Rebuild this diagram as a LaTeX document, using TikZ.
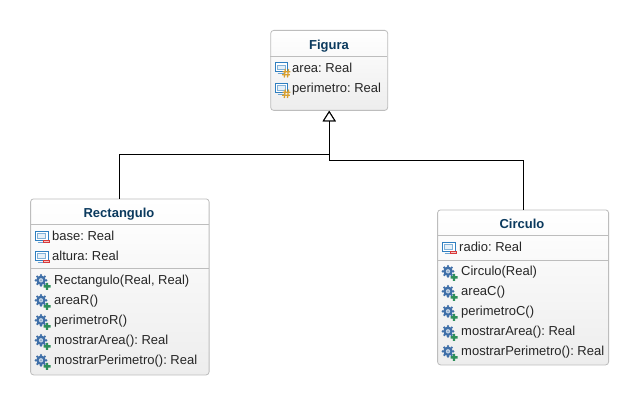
\documentclass[tikz,border=0pt]{standalone}
\usepackage{fontspec}
\setmainfont{Liberation Sans}
\usetikzlibrary{arrows.meta}
\frenchspacing
\definecolor{titlec}{HTML}{0B3A5E}
\definecolor{borderc}{HTML}{BDBDBD}
\definecolor{fieldc}{HTML}{2F7FC0}
\definecolor{gearc}{HTML}{3F6FA8}
\definecolor{plusc}{HTML}{2E8F5A}
\definecolor{minusc}{HTML}{D83A3A}
\definecolor{hashc}{HTML}{D8A030}
\tikzset{
 x=1pt,y=-1pt,
 umlbox/.style={draw=borderc,line width=0.8pt,rounded corners=3pt,top color=white,bottom color=black!7,inner sep=0pt,anchor=north west},
 divider/.style={draw=borderc,line width=0.8pt},
 titletext/.style={font=\fontsize{13}{15}\selectfont\bfseries,text=titlec,inner sep=0pt,anchor=base},
 member/.style={font=\fontsize{13}{15}\selectfont,text=black!85,anchor=base west,inner sep=0pt},
 inherit/.style={line width=1pt,-{Triangle[open,length=10.5pt,width=13pt,fill=white]}},
 pics/fieldicon/.style={code={
  \draw[fieldc,line width=1pt,fill=white] (-6.3,-4.5) rectangle (6.3,4.5);
  \draw[fieldc!60,line width=0.8pt,fill=fieldc!12] (-4,-2.2) rectangle (4,2.2);
  \draw[fieldc!70,line width=1pt] (-4,6.2) -- (2,6.2);
 }},
 pics/minusbadge/.style={code={\fill[minusc] (1.7,4) rectangle (8.5,7.2);\fill[white!70!minusc] (2.7,5.3) rectangle (7.5,5.9);}},
 pics/hashbadge/.style={code={
  \draw[hashc,line width=1.3pt] (3.8,1.5)--(2.8,10) (7,1.5)--(6,10) (1,4.2)--(8.8,4.2) (0.6,7.3)--(8.4,7.3);
 }},
 pics/methodicon/.style={code={
  \foreach \a in {0,45,...,315}{\fill[gearc] (\a:5.2) circle (1.3);}
  \fill[gearc] (0,0) circle (4.8);
  \fill[white!70!gearc] (0,0) circle (2.2);
  \fill[gearc!60] (0,0) circle (1);
  \fill[plusc] (2.5,4.8) rectangle (9.5,7.2) (4.8,2.5) rectangle (7.2,9.5);
 }},
}
\begin{document}
\begin{tikzpicture}
\useasboundingbox (0,0) rectangle (638,404);
\fill[white] (0,0) rectangle (638,404);
% Boxes
\node[umlbox,minimum width=117pt,minimum height=80pt] (fig) at (270.3,30) {};
\node[umlbox,minimum width=178.5pt,minimum height=176pt] (rect) at (30.2,198.5) {};
\node[umlbox,minimum width=171pt,minimum height=155pt] (circ) at (437.2,209.5) {};
% Connectors
\draw[inherit] (rect.north) -- ++(0,-44.5) -| (fig.south);
\draw[inherit] (circ.north) -- ++(0,-49.5) -| (fig.south);
% Dividers
\coordinate (figa) at (270.3,56); \coordinate (figb) at (387.3,56);
\draw[divider] (figa) -- (figb);
\coordinate (ra) at (30.2,224.5); \coordinate (rb) at (208.7,224.5);
\draw[divider] (ra) -- (rb);
\coordinate (rc) at (30.2,268.5); \coordinate (rd) at (208.7,268.5);
\draw[divider] (rc) -- (rd);
\coordinate (ca) at (437.2,235.5); \coordinate (cb) at (608.2,235.5);
\draw[divider] (ca) -- (cb);
\coordinate (cc) at (437.2,260.5); \coordinate (cd) at (608.2,260.5);
\draw[divider] (cc) -- (cd);
% Titles
\node[titletext] (figt) at (329,49.5) {Figura};
\node[titletext] (rectt) at (119,217.5) {Rectangulo};
\node[titletext] (circt) at (522,228.5) {Circulo};
% Figura
\pic at (281.5,67.5) {fieldicon}; \pic at (281.5,67.5) {hashbadge};
\node[member] (f1) at (292,72.6) {area: Real};
\pic at (281.5,88) {fieldicon}; \pic at (281.5,88) {hashbadge};
\node[member] (f2) at (292,92.6) {perimetro: Real};
% Rectangulo
\pic at (41.7,236) {fieldicon}; \pic at (41.7,236) {minusbadge};
\node[member] (r1) at (52,240.5) {base: Real};
\pic at (41.7,256) {fieldicon}; \pic at (41.7,256) {minusbadge};
\node[member] (r2) at (52,260.5) {altura: Real};
\pic at (41,280.3) {methodicon};
\node[member] (r3) at (54,284.5) {Rectangulo(Real, Real)};
\pic at (41,300.3) {methodicon};
\node[member] (r4) at (54,304.5) {areaR()};
\pic at (41,320.3) {methodicon};
\node[member] (r5) at (54,324.5) {perimetroR()};
\pic at (41,340.3) {methodicon};
\node[member] (r6) at (54,344.5) {mostrarArea(): Real};
\pic at (41,360.3) {methodicon};
\node[member] (r7) at (54,364.5) {mostrarPerimetro(): Real};
% Circulo
\pic at (448.7,247) {fieldicon}; \pic at (448.7,247) {minusbadge};
\node[member] (c1) at (459,251.5) {radio: Real};
\pic at (448,271.3) {methodicon};
\node[member] (c2) at (461,275.5) {Circulo(Real)};
\pic at (448,291.3) {methodicon};
\node[member] (c3) at (461,295.5) {areaC()};
\pic at (448,311.3) {methodicon};
\node[member] (c4) at (461,315.5) {perimetroC()};
\pic at (448,331.3) {methodicon};
\node[member] (c5) at (461,335.5) {mostrarArea(): Real};
\pic at (448,351.3) {methodicon};
\node[member] (c6) at (461,355.5) {mostrarPerimetro(): Real};
\end{tikzpicture}
\end{document}
